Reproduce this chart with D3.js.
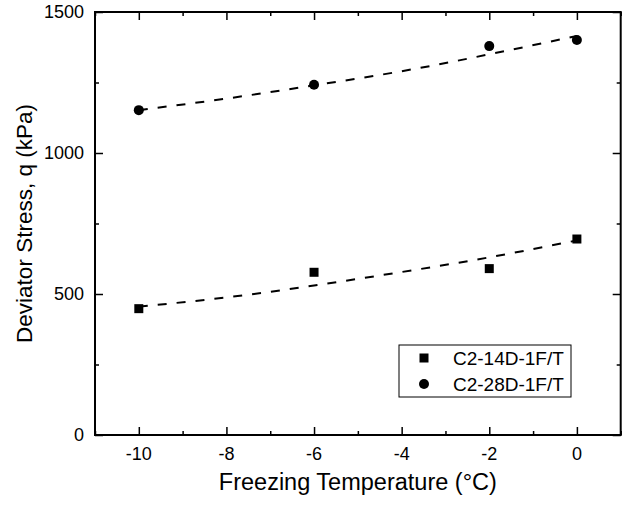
<!DOCTYPE html>
<html>
<head>
<meta charset="utf-8">
<script src="https://cdn.jsdelivr.net/npm/d3@7"></script>
<style>
  body { margin: 0; background: #fff; }
  svg { display: block; font-family: Arial, "Liberation Sans", sans-serif; }
</style>
</head>
<body>
<div id="chart"></div>
<script>
const WIDTH = 622;
const HEIGHT = 505;

// measured points
const temps = [-10, -6, -2, 0];
const q14 = [448, 577, 590, 695];
const q28 = [1152, 1242, 1379, 1401];

// dashed fit curves
const fitTemps = [-10, -8, -6, -4, -2, 0];
const fit14 = [455, 488, 530, 578, 630, 690];
const fit28 = [1152, 1193, 1240, 1290, 1350, 1415];

const xTicks = [-10, -8, -6, -4, -2, 0];
const yTicks = [0, 500, 1000, 1500];
const seriesNames = ["C2-14D-1F/T", "C2-28D-1F/T"];

const margin = {top: 12, right: 1.3, bottom: 70, left: 95};
const w = WIDTH - margin.left - margin.right;
const h = HEIGHT - margin.top - margin.bottom;

const svg = d3.select("#chart")
  .append("svg")
  .attr("width", WIDTH)
  .attr("height", HEIGHT);

const g = svg.append("g")
  .attr("transform", `translate(${margin.left},${margin.top})`);

const x = d3.scaleLinear().domain([-11, 1]).range([0, w]);
const y = d3.scaleLinear().domain([0, 1500]).range([h, 0]);

// ticks (inward, all four sides)
const xMinor = d3.range(-11, 1.01, 1).filter(v => !xTicks.includes(v));
const yMinor = d3.range(250, 1500, 500);

function axisSet(axisFn, scale, ticks, len, transform) {
  const a = g.append("g")
    .attr("transform", transform)
    .call(axisFn(scale).tickValues(ticks).tickSize(len).tickFormat(""));
  a.select(".domain").remove();
  a.selectAll("line").attr("stroke", "#000").attr("stroke-width", 1.5);
  return a;
}
axisSet(d3.axisTop, x, xTicks, 8, `translate(0,${h})`);
axisSet(d3.axisTop, x, xMinor, 4, `translate(0,${h})`);
axisSet(d3.axisBottom, x, xTicks, 8, "translate(0,0)");
axisSet(d3.axisBottom, x, xMinor, 4, "translate(0,0)");
axisSet(d3.axisRight, y, yTicks, 8, "translate(0,0)");
axisSet(d3.axisRight, y, yMinor, 4, "translate(0,0)");
axisSet(d3.axisLeft, y, yTicks, 8, `translate(${w},0)`);
axisSet(d3.axisLeft, y, yMinor, 4, `translate(${w},0)`);

// tick labels
g.selectAll(".xlab")
  .data(xTicks)
  .enter().append("text")
  .attr("x", d => x(d))
  .attr("y", h + 25)
  .attr("text-anchor", "middle")
  .attr("font-size", 18)
  .text(d => d);

g.selectAll(".ylab")
  .data(yTicks)
  .enter().append("text")
  .attr("x", -11)
  .attr("y", d => y(d) + 6)
  .attr("text-anchor", "end")
  .attr("font-size", 18)
  .text(d => d);

// frame
g.append("rect")
  .attr("width", w)
  .attr("height", h)
  .attr("fill", "none")
  .attr("stroke", "#000")
  .attr("stroke-width", 2);

// axis titles
svg.append("text")
  .attr("x", margin.left + w / 2)
  .attr("y", 490)
  .attr("text-anchor", "middle")
  .attr("font-size", 23.5)
  .text("Freezing Temperature (°C)");

svg.append("text")
  .attr("transform", `translate(32,${margin.top + h / 2}) rotate(-90)`)
  .attr("text-anchor", "middle")
  .attr("font-size", 22.5)
  .text("Deviator Stress, q (kPa)");

// fit lines
const line = d3.line()
  .x(d => x(d[0]))
  .y(d => y(d[1]))
  .curve(d3.curveNatural);

[fit14, fit28].forEach(vals => {
  g.append("path")
    .datum(fitTemps.map((t, i) => [t, vals[i]]))
    .attr("fill", "none")
    .attr("stroke", "#000")
    .attr("stroke-width", 2)
    .attr("stroke-dasharray", "9,10")
    .attr("d", line);
});

// points
g.selectAll(".sq")
  .data(temps.map((t, i) => [t, q14[i]]))
  .enter().append("rect")
  .attr("x", d => x(d[0]) - 4.5)
  .attr("y", d => y(d[1]) - 4.5)
  .attr("width", 9)
  .attr("height", 9)
  .attr("fill", "#000");

g.selectAll(".ci")
  .data(temps.map((t, i) => [t, q28[i]]))
  .enter().append("circle")
  .attr("cx", d => x(d[0]))
  .attr("cy", d => y(d[1]))
  .attr("r", 5)
  .attr("fill", "#000");

// legend
const leg = svg.append("g").attr("transform", "translate(399,345)");
leg.append("rect")
  .attr("width", 172)
  .attr("height", 52)
  .attr("fill", "#fff")
  .attr("stroke", "#000")
  .attr("stroke-width", 1);
leg.append("rect")
  .attr("x", 25 - 4.5).attr("y", 13 - 4.5)
  .attr("width", 9).attr("height", 9)
  .attr("fill", "#000");
leg.append("circle")
  .attr("cx", 25).attr("cy", 39)
  .attr("r", 5)
  .attr("fill", "#000");
leg.selectAll(".lt")
  .data(seriesNames)
  .enter().append("text")
  .attr("x", 54)
  .attr("y", (d, i) => 13 + i * 26 + 6.5)
  .attr("font-size", 19)
  .text(d => d);
</script>
</body>
</html>
